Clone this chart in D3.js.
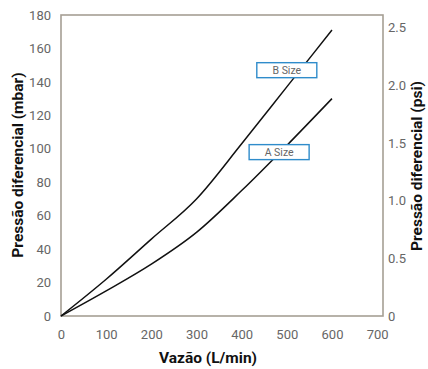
<!DOCTYPE html>
<html>
<head>
<meta charset="utf-8">
<script src="https://cdn.jsdelivr.net/npm/d3@7"></script>
<style>
  body { margin: 0; background: #fff; }
  text { font-family: Roboto, "Liberation Sans", sans-serif; }
  .tick-label { fill: #666; font-size: 13px; }
  .title { fill: #111; font-size: 15.5px; font-weight: bold; }
</style>
</head>
<body>
<script>
// data
var flow = [0, 100, 200, 300, 400, 500, 600];           // L/min
var sizeA = [0, 15, 31, 50, 75, 102, 130];               // mbar
var sizeB = [0, 22, 46, 70, 103, 137, 171];              // mbar
var xTicks = [0, 100, 200, 300, 400, 500, 600, 700];
var yTicks = [0, 20, 40, 60, 80, 100, 120, 140, 160, 180];
var psiTicks = [0, 0.5, 1.0, 1.5, 2.0, 2.5];
var labelNames = ["B Size", "A Size"];
var labelFlow = [500, 483];
var labelMbar = [147, 98];
var MBAR_PER_PSI = 68.948;

var svg_w = 428, svg_h = 369;
var plot_left = 61, plot_right = 383, plot_top = 15, plot_bottom = 316;

var svg = d3.select("body").append("svg")
    .attr("width", svg_w)
    .attr("height", svg_h);

var x = d3.scaleLinear().domain([0, 713]).range([plot_left, plot_right]);
var y = d3.scaleLinear().domain([0, 180]).range([plot_bottom, plot_top]);
var yPsi = d3.scaleLinear().domain([0, 180 / MBAR_PER_PSI]).range([plot_bottom, plot_top]);

// frame
svg.append("rect")
    .attr("x", plot_left).attr("y", plot_top)
    .attr("width", plot_right - plot_left).attr("height", plot_bottom - plot_top)
    .attr("fill", "none")
    .attr("stroke", "#a69f94")
    .attr("stroke-width", 1.6);

function styleAxis(g) {
  g.select(".domain").remove();
  g.selectAll("text")
    .attr("class", "tick-label")
    .attr("font-size", null)
    .attr("font-family", null);
}

// x axis
svg.append("g")
    .attr("transform", "translate(0," + plot_bottom + ")")
    .call(d3.axisBottom(x).tickValues(xTicks).tickSize(0).tickPadding(14))
    .call(styleAxis);

// left axis
svg.append("g")
    .attr("transform", "translate(" + plot_left + ",0)")
    .call(d3.axisLeft(y).tickValues(yTicks).tickSize(0).tickPadding(10))
    .call(styleAxis);

// right axis (psi)
svg.append("g")
    .attr("transform", "translate(" + plot_right + ",0)")
    .call(d3.axisRight(yPsi).tickValues(psiTicks).tickSize(0).tickPadding(5)
      .tickFormat(function(d) { return d === 0 ? "0" : d3.format(".1f")(d); }))
    .call(styleAxis);

// curves
var line = d3.line()
    .x(function(d) { return x(d[0]); })
    .y(function(d) { return y(d[1]); })
    .curve(d3.curveMonotoneX);

[sizeB, sizeA].forEach(function(series) {
  svg.append("path")
      .datum(flow.map(function(f, i) { return [f, series[i]]; }))
      .attr("d", line)
      .attr("fill", "none")
      .attr("stroke", "#111")
      .attr("stroke-width", 1.5);
});

// size labels
labelNames.forEach(function(name, i) {
  var cx = x(labelFlow[i]), cy = y(labelMbar[i]);
  svg.append("rect")
      .attr("x", cx - 30).attr("y", cy - 7.5)
      .attr("width", 60).attr("height", 15)
      .attr("fill", "#fff")
      .attr("stroke", "#2f8ccb")
      .attr("stroke-width", 1.4);
  svg.append("text")
      .attr("x", cx).attr("y", cy + 4)
      .attr("text-anchor", "middle")
      .attr("font-size", 10.5)
      .attr("fill", "#666")
      .text(name);
});

// axis titles
svg.append("text")
    .attr("class", "title")
    .attr("x", 208).attr("y", 363)
    .attr("text-anchor", "middle")
    .text("Vazão (L/min)");

svg.append("text")
    .attr("class", "title")
    .attr("transform", "translate(23,165) rotate(-90)")
    .attr("text-anchor", "middle")
    .text("Pressão diferencial (mbar)");

svg.append("text")
    .attr("class", "title")
    .attr("transform", "translate(422,166) rotate(-90)")
    .attr("text-anchor", "middle")
    .text("Pressão diferencial (psi)");
</script>
</body>
</html>
